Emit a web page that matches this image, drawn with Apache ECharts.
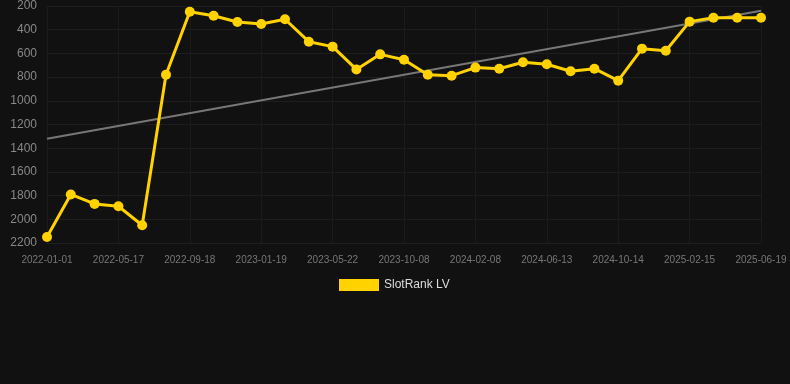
<!DOCTYPE html>
<html>
<head>
<meta charset="utf-8">
<script src="https://cdn.jsdelivr.net/npm/echarts@6/dist/echarts.min.js"></script>
<style>
html,body{margin:0;padding:0;background:#111111;}
#chart{width:790px;height:384px;}
</style>
</head>
<body>
<div id="chart"></div>
<script>
var dates = ['2022-01-01','2022-02-15','2022-03-31','2022-05-17','2022-06-28','2022-08-09','2022-09-18','2022-10-30','2022-12-09','2023-01-19','2023-03-02','2023-04-11','2023-05-22','2023-07-08','2023-08-23','2023-10-08','2023-11-18','2023-12-29','2024-02-08','2024-03-20','2024-05-02','2024-06-13','2024-07-25','2024-09-03','2024-10-14','2024-11-25','2025-01-05','2025-02-15','2025-03-28','2025-05-08','2025-06-19'];
var rankValues = [2150,1790,1870,1890,2050,780,248,282,335,352,312,501,543,735,608,653,780,788,720,729,675,692,751,729,830,560,577,332,299,299,299];
var trendStart = 1320;
var trendEnd = 240;
var seriesName = 'SlotRank LV';

var trendData = dates.map(function(d, i){
  if (i === 0) return trendStart;
  if (i === dates.length - 1) return trendEnd;
  return null;
});

var chart = echarts.init(document.getElementById('chart'));
chart.setOption({
  backgroundColor: '#111111',
  animation: false,
  textStyle: {fontFamily: 'Liberation Sans, Arial, sans-serif'},
  grid: {left: 47, right: 29, top: 6, bottom: 141, containLabel: false},
  legend: {
    data: [seriesName],
    top: 274,
    left: 334,
    icon: 'rect',
    itemWidth: 40,
    itemHeight: 12,
    itemGap: 10,
    textStyle: {color: '#dddddd', fontSize: 12}
  },
  xAxis: {
    type: 'category',
    data: dates,
    boundaryGap: false,
    axisLine: {show: false},
    axisTick: {show: false},
    axisLabel: {color: '#777777', fontSize: 10, interval: 2, margin: 12},
    splitLine: {show: true, interval: 2, lineStyle: {color: '#1b1b1b'}}
  },
  yAxis: {
    type: 'value',
    inverse: true,
    min: 200,
    max: 2200,
    interval: 200,
    axisLine: {show: false},
    axisTick: {show: false},
    axisLabel: {color: '#888888', fontSize: 12, margin: 10, formatter: function(v){ return String(v); }},
    splitLine: {show: true, lineStyle: {color: '#1e1e1e'}}
  },
  series: [
    {
      name: seriesName,
      type: 'line',
      data: rankValues,
      symbol: 'circle',
      symbolSize: 10,
      itemStyle: {color: '#ffd200'},
      lineStyle: {color: '#ffd200', width: 3},
      z: 3
    },
    {
      name: 'trend',
      type: 'line',
      data: trendData,
      connectNulls: true,
      symbol: 'none',
      lineStyle: {color: '#777777', width: 2},
      itemStyle: {color: '#777777'},
      z: 2
    }
  ]
});
</script>
</body>
</html>
